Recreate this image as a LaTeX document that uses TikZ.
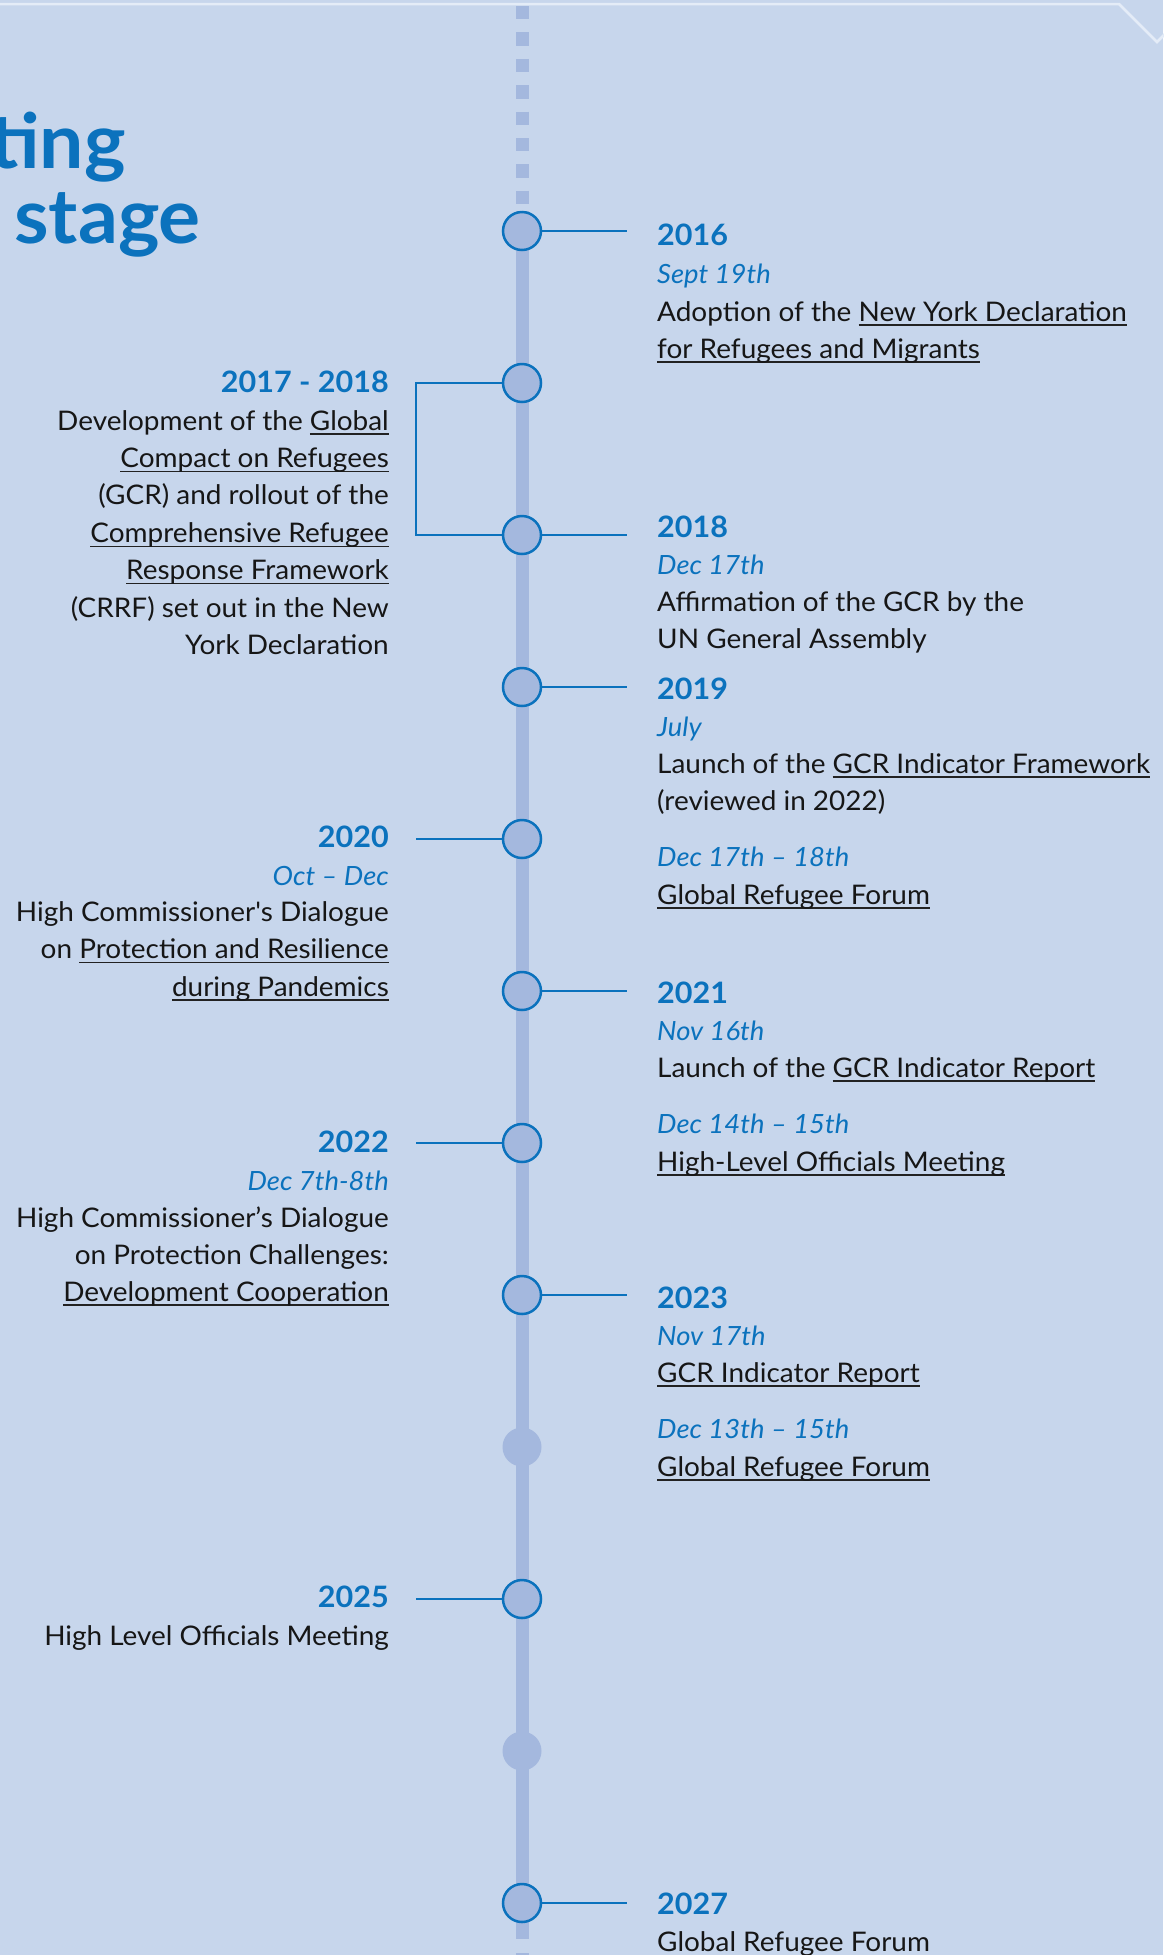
\documentclass[tikz,border=0pt]{standalone}
\usepackage{fontspec}
\setmainfont{Lato}[FakeStretch=1.035]
\definecolor{bgc}{HTML}{C7D6EC}
\definecolor{spn}{HTML}{A4B8DE}
\definecolor{blu}{HTML}{0B72BD}
\definecolor{txt}{HTML}{161616}
\definecolor{ulc}{HTML}{222222}
\definecolor{topl}{HTML}{E4ECF7}
\newcommand\ulk[1]{\setbox0=\hbox{#1}\rlap{\color{ulc}\rule[-4.6pt]{\wd0}{1.3pt}}\box0}
\begin{document}
\begin{tikzpicture}[x=1pt,y=-1pt,
  yr/.style={font=\fontsize{29.5}{34}\selectfont\bfseries, text=blu, inner sep=0},
  dt/.style={font=\fontsize{26.5}{30}\selectfont\itshape, text=blu, inner sep=0},
  bd/.style={font=\fontsize{27}{30}\selectfont, text=txt, inner sep=0},
  ttl/.style={font=\fontsize{76}{80}\selectfont\bfseries, text=blu, inner sep=0},
  R/.style={anchor=base west},
  L/.style={anchor=base east},
  dot/.style={circle, minimum size=38pt, inner sep=0, fill=spn, draw=blu, line width=2.5pt},
  ghost/.style={circle, minimum size=39pt, inner sep=0, fill=spn},
  conn/.style={draw=blu, line width=2.5pt}]
\useasboundingbox (0,0) rectangle (1163,1955);
\fill[bgc] (0,0) rectangle (1163,1955);
% top border line
\draw[topl, line width=2.5pt] (-5,4) -- (1119,4) -- (1157,42) -- (1170,29);
% title
\node[ttl, L] (title1) at (126,168) {ting};
\node[ttl, R] (title2) at (14,243) {stage};
% spine
\draw[spn, line width=13pt, dash pattern=on 13.3pt off 13.1pt] (522,6) -- (522,205);
\draw[spn, line width=13pt] (522,211) -- (522,1939);
\draw[spn, line width=13pt] (522,1953) -- (522,1970);
% circles
\node[dot] (c16) at (522,231) {};
\node[dot] (c1718) at (522,383) {};
\node[dot] (c18) at (522,535) {};
\node[dot] (c19) at (522,687) {};
\node[dot] (c20) at (522,839) {};
\node[dot] (c21) at (522,991) {};
\node[dot] (c22) at (522,1143) {};
\node[dot] (c23) at (522,1295) {};
\node[ghost] (g24) at (522,1447) {};
\node[dot] (c25) at (522,1599) {};
\node[ghost] (g26) at (522,1751) {};
\node[dot] (c27) at (522,1903) {};
% connector ends
\coordinate (e16) at (627,231);
\coordinate (e18) at (627,535);
\coordinate (e19) at (627,687);
\coordinate (e21) at (627,991);
\coordinate (e23) at (627,1295);
\coordinate (e27) at (627,1903);
\coordinate (b1718) at (416,383);
\coordinate (e20) at (416,839);
\coordinate (e22) at (416,1143);
\coordinate (e25) at (416,1599);
\draw[conn] (c16.east) -- (e16);
\draw[conn] (c18.east) -- (e18);
\draw[conn] (c19.east) -- (e19);
\draw[conn] (c21.east) -- (e21);
\draw[conn] (c23.east) -- (e23);
\draw[conn] (c27.east) -- (e27);
\draw[conn] (c1718.west) -- (b1718) |- (c18.west);
\draw[conn] (c20.west) -- (e20);
\draw[conn] (c22.west) -- (e22);
\draw[conn] (c25.west) -- (e25);
% right column
\node[yr, R] (y16) at (657,245.5) {2016};
\node[dt, R] (d16) at (657,283.5) {Sept 19th};
\node[bd, R] (t16a) at (657,321) {Adoption of the \ulk{New York Declaration}};
\node[bd, R] (t16b) at (657,358) {\ulk{for Refugees and Migrants}};
\node[yr, R] (y18) at (657,537) {2018};
\node[dt, R] (d18) at (657,574.5) {Dec 17th};
\node[bd, R] (t18a) at (657,611) {Affirmation of the GCR by the};
\node[bd, R] (t18b) at (657,648.5) {UN General Assembly};
\node[yr, R] (y19) at (657,699) {2019};
\node[dt, R] (d19) at (657,736) {July};
\node[bd, R] (t19a) at (657,773) {Launch of the \ulk{GCR Indicator Framework}};
\node[bd, R] (t19b) at (657,810) {(reviewed in 2022)};
\node[dt, R] (d19b) at (657,866.7) {Dec 17th -- 18th};
\node[bd, R] (t19c) at (657,904) {\ulk{Global Refugee Forum}};
\node[yr, R] (y21) at (657,1003) {2021};
\node[dt, R] (d21) at (657,1040) {Nov 16th};
\node[bd, R] (t21a) at (657,1077) {Launch of the \ulk{GCR Indicator Report}};
\node[dt, R] (d21b) at (657,1133) {Dec 14th -- 15th};
\node[bd, R] (t21b) at (657,1171) {\ulk{High-Level Officials Meeting}};
\node[yr, R] (y23) at (657,1308) {2023};
\node[dt, R] (d23) at (657,1345) {Nov 17th};
\node[bd, R] (t23a) at (657,1382) {\ulk{GCR Indicator Report}};
\node[dt, R] (d23b) at (657,1438.5) {Dec 13th -- 15th};
\node[bd, R] (t23b) at (657,1476) {\ulk{Global Refugee Forum}};
\node[yr, R] (y27) at (657,1914.5) {2027};
\node[bd, R] (t27) at (657,1951.5) {Global Refugee Forum};
% left column
\node[yr, L] (y1718) at (389,392.7) {2017 - 2018};
\node[bd, L] (l1) at (389,430) {Development of the \ulk{Global}};
\node[bd, L] (l2) at (389,467.4) {\ulk{Compact on Refugees}};
\node[bd, L] (l3) at (389,504.8) {(GCR) and rollout of the};
\node[bd, L] (l4) at (389,542.2) {\ulk{Comprehensive Refugee}};
\node[bd, L] (l5) at (389,579.6) {\ulk{Response Framework}};
\node[bd, L] (l6) at (389,617) {(CRRF) set out in the New};
\node[bd, L] (l7) at (389,654.4) {York Declaration};
\node[yr, L] (y20) at (389,847) {2020};
\node[dt, L] (d20) at (389,885) {Oct -- Dec};
\node[bd, L] (l20a) at (389,921.7) {High Commissioner\textquotesingle s Dialogue};
\node[bd, L] (l20b) at (389,958.5) {on \ulk{Protection and Resilience}};
\node[bd, L] (l20c) at (389,996) {\ulk{during Pandemics}};
\node[yr, L] (y22) at (389,1152) {2022};
\node[dt, L] (d22) at (389,1190) {Dec 7th-8th};
\node[bd, L] (l22a) at (389,1227) {High Commissioner’s Dialogue};
\node[bd, L] (l22b) at (389,1264) {on Protection Challenges:};
\node[bd, L] (l22c) at (389,1301) {\ulk{Development Cooperation}};
\node[yr, L] (y25) at (389,1607) {2025};
\node[bd, L] (l25) at (389,1645) {High Level Officials Meeting};
\end{tikzpicture}
\end{document}
